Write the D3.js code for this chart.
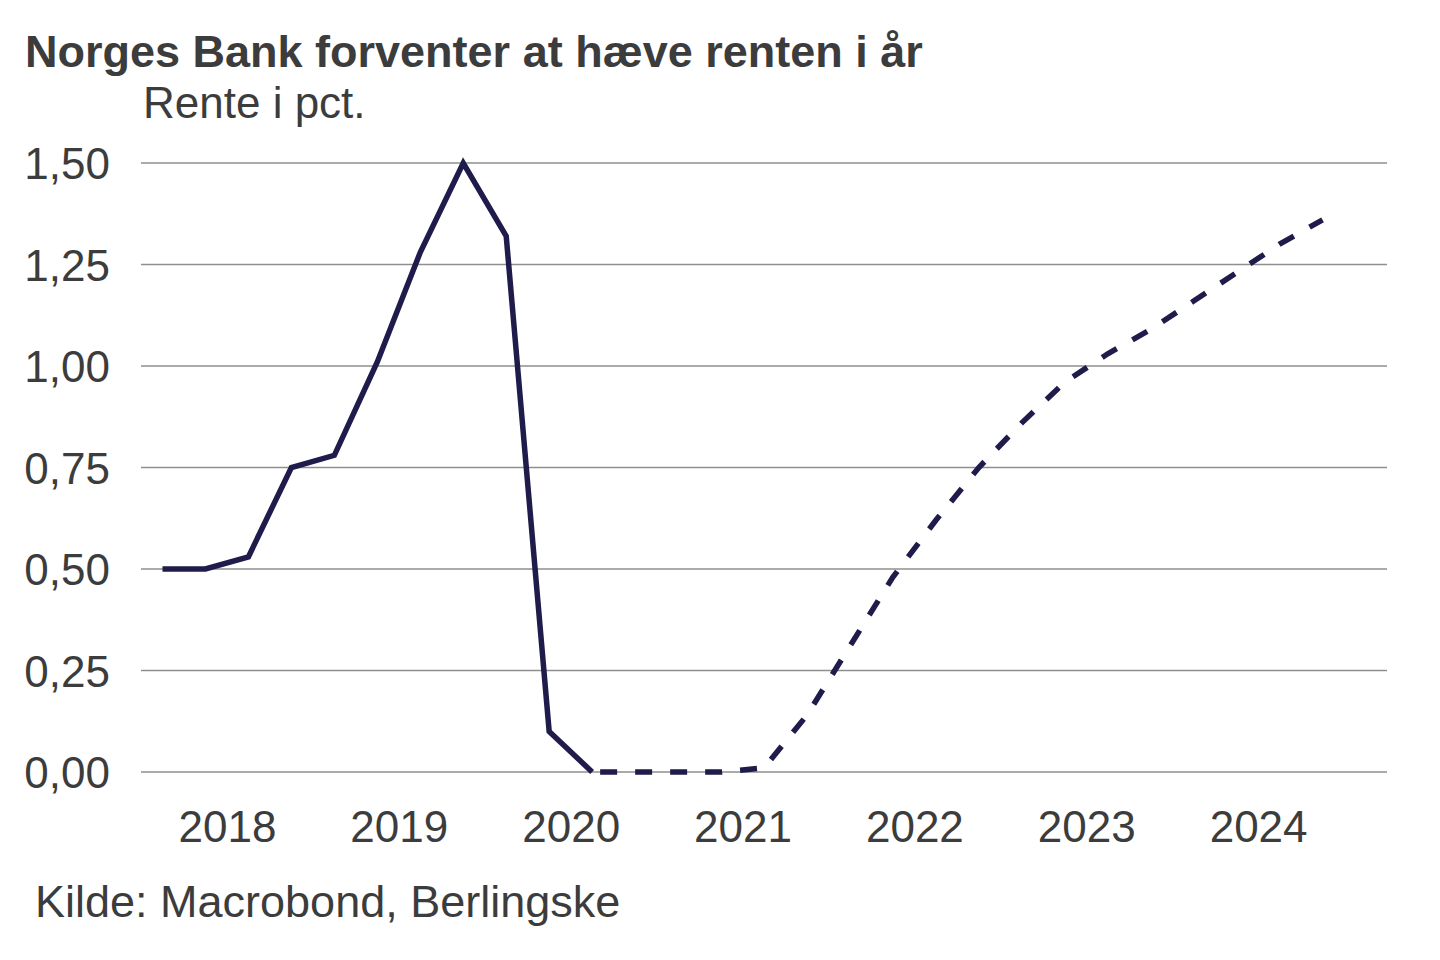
<!DOCTYPE html>
<html>
<head>
<meta charset="utf-8">
<script src="https://cdn.jsdelivr.net/npm/d3@7"></script>
<style>
  html, body { margin: 0; padding: 0; background: #ffffff; }
  svg { display: block; font-family: "Liberation Sans", Arial, sans-serif; }
</style>
</head>
<body>
<svg id="chart" width="1440" height="960"></svg>
<script>
// ---- data ----
const quarters = ["2018Q1","2018Q2","2018Q3","2018Q4","2019Q1","2019Q2","2019Q3","2019Q4",
  "2020Q1","2020Q2","2020Q3","2020Q4","2021Q1","2021Q2","2021Q3","2021Q4",
  "2022Q1","2022Q2","2022Q3","2022Q4","2023Q1","2023Q2","2023Q3","2023Q4",
  "2024Q1","2024Q2","2024Q3","2024Q4"];
const actualRate = [0.50,0.50,0.53,0.75,0.78,1.01,1.28,1.50,1.32,0.10,0.00];
const forecastStart = 10; // forecast begins at 2020Q3
const forecastRate = [0.00,0.00,0.00,0.00,0.01,0.14,0.31,0.48,0.62,0.75,0.86,0.96,1.03,1.09,1.16,1.23,1.30,1.36];
const yTicks = [0,0.25,0.5,0.75,1.0,1.25,1.5];
const yearLabels = [2018,2019,2020,2021,2022,2023,2024];

const title = "Norges Bank forventer at hæve renten i år";
const subtitle = "Rente i pct.";
const source = "Kilde: Macrobond, Berlingske";

// ---- helpers ----
const qToYear = q => +q.slice(0,4) + (+q.slice(5) - 0.5) / 4;

const svg = d3.select("#chart");
const x = d3.scaleLinear().domain([2018, 2025.25]).range([141, 1387]);
const y = d3.scaleLinear().domain([0, 1.5]).range([772, 163]);

const textColor = "#3c3c3c";
const lineColor = "#1f1b4b";

// title & subtitle
svg.append("text").attr("x", 25).attr("y", 67)
  .attr("font-size", 45).attr("font-weight", "bold").attr("fill", textColor).text(title);
svg.append("text").attr("x", 143).attr("y", 118)
  .attr("font-size", 44).attr("fill", textColor).text(subtitle);

// gridlines
svg.append("g").selectAll("line").data(yTicks).join("line")
  .attr("x1", 141).attr("x2", 1387)
  .attr("y1", d => y(d)).attr("y2", d => y(d))
  .attr("stroke", "#8f8f8f").attr("stroke-width", 1.5);

// y axis labels
const yAxis = d3.axisLeft(y).tickValues(yTicks).tickSize(0).tickPadding(0)
  .tickFormat(d => d3.format(".2f")(d).replace(".", ","));
const gy = svg.append("g").attr("transform", "translate(110,0)").call(yAxis);
gy.select(".domain").remove();
gy.selectAll("text").attr("font-size", 44).attr("fill", textColor)
  .attr("font-family", "Liberation Sans, Arial, sans-serif").attr("dy", "0.36em");

// x axis labels
const xAxis = d3.axisBottom(x).tickValues(yearLabels.map(v => v + 0.5)).tickSize(0).tickPadding(0)
  .tickFormat(d => String(Math.floor(d)));
const gx = svg.append("g").attr("transform", "translate(0,810)").call(xAxis);
gx.select(".domain").remove();
gx.selectAll("text").attr("font-size", 44).attr("fill", textColor)
  .attr("font-family", "Liberation Sans, Arial, sans-serif").attr("dy", "0.72em");

// lines
const line = d3.line().x(d => x(qToYear(d.q))).y(d => y(d.v));
const actualData = actualRate.map((v, i) => ({q: quarters[i], v}));
const forecastData = forecastRate.map((v, i) => ({q: quarters[forecastStart + i], v}));

svg.append("path").datum(actualData).attr("d", line)
  .attr("fill", "none").attr("stroke", lineColor).attr("stroke-width", 5.5)
  .attr("stroke-linejoin", "miter");
svg.append("path").datum(forecastData).attr("d", line)
  .attr("fill", "none").attr("stroke", lineColor).attr("stroke-width", 5.5)
  .attr("stroke-dasharray", "17,18").attr("stroke-dashoffset", -8);

// source
svg.append("text").attr("x", 35).attr("y", 917)
  .attr("font-size", 45).attr("fill", textColor).text(source);
</script>
</body>
</html>
